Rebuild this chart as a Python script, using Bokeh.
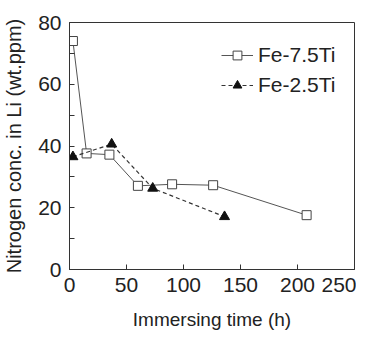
from bokeh.plotting import figure
from bokeh.models import FixedTicker, Legend, LegendItem, Range1d
from bokeh.embed import file_html
from bokeh.resources import INLINE

# Data
time_75 = [3, 15, 35, 60, 90, 126, 208]
conc_75 = [74.0, 37.6, 37.2, 27.1, 27.6, 27.3, 17.6]
time_25 = [3, 37, 73, 136]
conc_25 = [36.5, 40.6, 26.3, 17.1]

x_ticks = [0, 50, 100, 150, 200, 250]
y_ticks = [0, 20, 40, 60, 80]
y_minor = [10, 30, 50, 70]

FONT = "Liberation Sans"
TXT = "#222222"

p = figure(width=356, height=336, output_backend="svg", toolbar_location=None,
           x_range=Range1d(0, 250), y_range=Range1d(0, 80),
           min_border_left=64, min_border_right=2, min_border_top=22, min_border_bottom=67)
p.outline_line_color = "#333333"
p.outline_line_width = 1
p.grid.visible = False
p.background_fill_color = "white"
p.border_fill_color = "white"

l1 = p.line(time_75, conc_75, line_color="#555555", line_width=1)
s1 = p.scatter(time_75, conc_75, marker="square", size=9, fill_color="white",
               line_color="#444444", line_width=1)
l2 = p.line(time_25, conc_25, line_color="#333333", line_width=1.2, line_dash="4 3")
s2 = p.scatter(time_25, conc_25, marker="triangle", size=10, fill_color="#111111",
               line_color="#111111")

for ax in (p.xaxis[0], p.yaxis[0]):
    ax.axis_line_color = "#333333"
    ax.major_tick_in = 5
    ax.major_tick_out = 0
    ax.minor_tick_in = 5
    ax.minor_tick_out = 0
    ax.major_tick_line_color = "#333333"
    ax.minor_tick_line_color = "#333333"
    ax.major_label_text_font = FONT
    ax.major_label_text_font_size = "21px"
    ax.major_label_text_color = TXT
    ax.axis_label_text_font = FONT
    ax.axis_label_text_font_style = "normal"
    ax.axis_label_text_color = TXT

p.xaxis.ticker = FixedTicker(ticks=x_ticks)
p.yaxis.ticker = FixedTicker(ticks=y_ticks, minor_ticks=y_minor)
p.xaxis.minor_tick_line_color = None
p.xaxis.axis_label = "Immersing time (h)"
p.xaxis.axis_label_text_font_size = "19px"
p.xaxis.major_label_standoff = 8
p.xaxis.axis_label_standoff = 14
p.yaxis.axis_label = "Nitrogen conc. in Li (wt.ppm)"
p.yaxis.axis_label_text_font_size = "20px"
p.yaxis.major_label_standoff = 8
p.yaxis.axis_label_standoff = 10

legend = Legend(items=[LegendItem(label="Fe-7.5Ti", renderers=[l1, s1]),
                       LegendItem(label="Fe-2.5Ti", renderers=[l2, s2])],
                location=(152, 172))
legend.border_line_color = None
legend.background_fill_alpha = 0
legend.label_text_font = FONT
legend.label_text_font_size = "21px"
legend.label_text_color = TXT
legend.glyph_width = 32
legend.glyph_height = 22
legend.label_height = 22
legend.spacing = 6
legend.label_standoff = 5
legend.padding = 0
legend.margin = 0
p.add_layout(legend)

open("out.html", "w").write(file_html(p, INLINE))
